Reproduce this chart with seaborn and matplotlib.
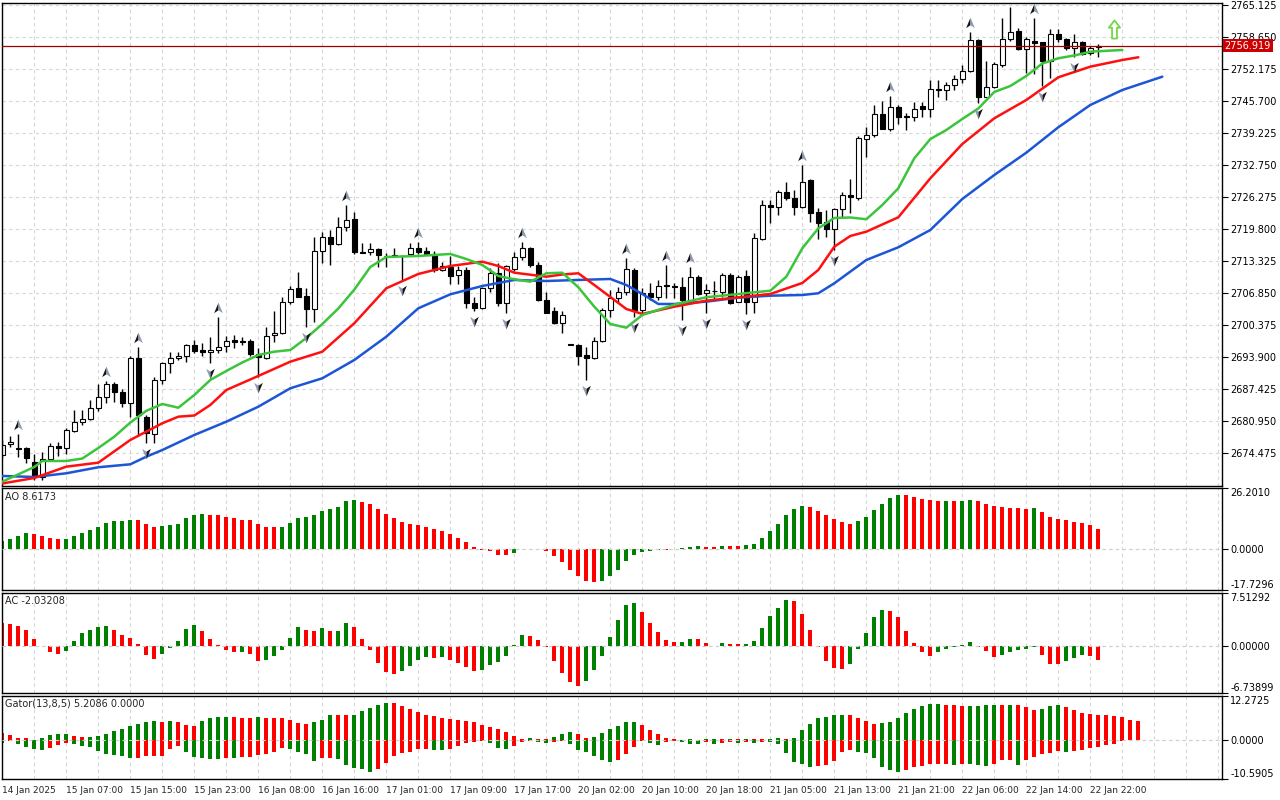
import matplotlib
matplotlib.use("Agg")
import matplotlib.pyplot as plt
import seaborn as sns
import numpy as np
from matplotlib.path import Path
from matplotlib.transforms import offset_copy

# ---------------- hourly candles, 14 Jan 23:00 .. 22 Jan 23:00 ----------------
opens = [2674.09, 2676.25, 2675.55, 2675.57, 2672.61, 2669.70, 2673.22, 2675.91, 2675.44, 2679.01,
         2680.71, 2681.32, 2683.66, 2685.77, 2688.46, 2686.78, 2684.67, 2693.66, 2681.72, 2678.28,
         2689.27, 2692.64, 2693.66, 2694.12, 2696.29, 2695.27, 2694.87, 2695.27, 2696.14, 2697.36,
         2697.09, 2697.16, 2694.52, 2693.66, 2698.31, 2698.71, 2705.11, 2707.88, 2706.26, 2703.57,
         2715.36, 2718.25, 2716.72, 2720.16, 2721.78, 2715.16, 2715.22, 2715.71, 2714.41, 2714.35,
         2714.35, 2714.76, 2715.91, 2715.36, 2714.76, 2711.52, 2712.07, 2710.51, 2711.52, 2704.90,
         2703.77, 2707.82, 2710.97, 2704.78, 2711.66, 2714.21, 2715.91, 2712.53, 2705.45, 2703.23,
         2700.74, 2696.45, 2696.35, 2694.32, 2693.66, 2697.22, 2703.43, 2705.79, 2707.01, 2711.52,
         2703.43, 2706.81, 2706.00, 2708.38, 2708.18, 2708.14, 2704.78, 2710.16, 2706.81, 2707.21,
         2707.13, 2710.51, 2705.11, 2710.30, 2705.11, 2717.79, 2724.67, 2724.33, 2727.24, 2726.02,
         2724.20, 2729.73, 2723.31, 2721.29, 2719.75, 2723.80, 2726.69, 2726.02, 2737.96, 2738.83,
         2743.08, 2740.04, 2744.43, 2742.57, 2742.41, 2744.70, 2744.03, 2748.14, 2747.93, 2748.94,
         2750.16, 2751.84, 2758.05, 2746.58, 2748.48, 2752.99, 2758.19, 2759.87, 2756.17, 2757.91,
         2757.58, 2753.86, 2759.26, 2758.19, 2756.37, 2757.70, 2755.36, 2756.58]
highs = [2677.13, 2677.93, 2678.34, 2675.77, 2674.29, 2674.76, 2676.46, 2676.78, 2679.49, 2683.20,
         2683.20, 2685.22, 2688.46, 2689.06, 2688.92, 2687.39, 2694.12, 2696.00, 2682.18, 2689.93,
         2692.97, 2694.87, 2694.99, 2696.55, 2697.36, 2696.69, 2698.03, 2702.07, 2698.17, 2698.37,
         2697.90, 2697.50, 2695.68, 2700.05, 2703.23, 2706.00, 2708.28, 2711.11, 2707.82, 2718.13,
         2719.27, 2719.61, 2722.18, 2724.67, 2723.19, 2716.92, 2716.92, 2715.91, 2714.90, 2715.91,
         2714.55, 2716.92, 2717.25, 2716.23, 2715.36, 2713.20, 2714.35, 2712.33, 2712.19, 2706.00,
         2708.14, 2711.86, 2712.87, 2712.53, 2715.22, 2717.25, 2716.23, 2713.20, 2707.13, 2704.09,
         2703.23, 2696.55, 2696.49, 2696.00, 2697.90, 2703.77, 2707.47, 2708.14, 2713.89, 2711.98,
         2707.82, 2708.83, 2709.50, 2712.53, 2708.83, 2710.16, 2712.19, 2710.51, 2708.69, 2709.36,
         2710.85, 2710.85, 2710.51, 2711.52, 2719.06, 2725.68, 2725.68, 2727.70, 2729.38, 2727.70,
         2732.76, 2729.87, 2724.00, 2723.66, 2724.00, 2727.36, 2729.87, 2738.63, 2740.51, 2744.90,
         2745.71, 2746.72, 2744.90, 2743.22, 2745.57, 2745.57, 2749.96, 2749.96, 2749.61, 2750.97,
         2752.99, 2759.73, 2758.19, 2753.86, 2753.66, 2762.44, 2764.78, 2760.41, 2758.72, 2762.44,
         2757.70, 2760.21, 2760.21, 2758.39, 2759.20, 2757.91, 2756.83, 2757.18]
lows = [2673.49, 2675.77, 2673.75, 2672.53, 2669.04, 2669.04, 2673.08, 2673.89, 2674.29, 2678.81,
        2680.16, 2681.17, 2682.99, 2684.67, 2684.75, 2683.87, 2681.84, 2677.93, 2676.46, 2676.46,
        2688.46, 2690.74, 2693.31, 2692.97, 2694.79, 2694.12, 2692.77, 2694.67, 2694.99, 2695.68,
        2696.35, 2694.12, 2689.81, 2693.45, 2697.01, 2698.57, 2704.64, 2706.00, 2700.05, 2701.06,
        2712.87, 2712.53, 2716.52, 2719.47, 2714.76, 2714.90, 2714.55, 2712.19, 2712.19, 2714.09,
        2709.50, 2714.55, 2714.76, 2714.55, 2711.18, 2711.38, 2708.69, 2708.69, 2703.77, 2703.29,
        2703.57, 2707.13, 2704.24, 2702.76, 2711.38, 2713.54, 2712.07, 2705.31, 2702.76, 2700.59,
        2698.83, 2696.25, 2692.30, 2689.27, 2693.51, 2697.01, 2701.95, 2705.11, 2706.46, 2702.07,
        2702.41, 2705.45, 2705.45, 2705.79, 2705.79, 2701.40, 2704.64, 2706.46, 2702.76, 2705.45,
        2706.00, 2704.64, 2704.98, 2702.62, 2702.76, 2717.59, 2720.97, 2722.65, 2725.68, 2722.65,
        2723.99, 2721.29, 2717.73, 2718.26, 2715.56, 2721.98, 2722.99, 2725.68, 2734.44, 2738.49,
        2739.98, 2739.70, 2741.05, 2739.84, 2741.72, 2742.41, 2742.53, 2746.58, 2745.91, 2747.93,
        2749.29, 2751.64, 2745.36, 2746.46, 2748.28, 2752.65, 2757.91, 2756.03, 2751.43, 2751.17,
        2748.74, 2750.30, 2757.70, 2756.03, 2754.67, 2755.01, 2755.01, 2754.67]
closes = [2676.11, 2676.78, 2675.34, 2673.42, 2669.70, 2673.22, 2675.91, 2675.50, 2679.15, 2680.71,
          2681.38, 2683.66, 2685.77, 2688.46, 2686.78, 2684.55, 2693.66, 2682.18, 2678.48, 2689.27,
          2692.64, 2693.78, 2694.18, 2696.29, 2695.19, 2694.87, 2695.33, 2695.88, 2697.22, 2696.89,
          2696.89, 2694.47, 2693.86, 2698.17, 2698.71, 2705.11, 2707.61, 2706.12, 2703.57, 2715.36,
          2718.25, 2716.72, 2720.16, 2721.57, 2715.10, 2715.04, 2715.71, 2714.55, 2714.29, 2714.31,
          2714.29, 2715.91, 2715.22, 2714.69, 2711.52, 2712.33, 2710.37, 2711.52, 2704.78, 2703.77,
          2707.82, 2710.85, 2704.78, 2712.33, 2714.21, 2715.91, 2712.53, 2705.45, 2702.88, 2700.74,
          2702.41, 2696.35, 2694.18, 2693.66, 2697.22, 2703.43, 2705.79, 2707.01, 2711.66, 2703.43,
          2706.81, 2706.00, 2708.34, 2708.28, 2708.08, 2705.45, 2710.16, 2706.66, 2707.47, 2707.33,
          2710.51, 2704.78, 2710.16, 2705.11, 2717.93, 2724.67, 2724.20, 2727.24, 2726.02, 2724.20,
          2729.38, 2723.11, 2721.09, 2719.75, 2723.80, 2726.69, 2726.22, 2738.16, 2738.83, 2743.02,
          2740.04, 2744.43, 2742.53, 2742.47, 2744.03, 2744.03, 2748.07, 2748.01, 2748.94, 2750.16,
          2751.84, 2758.05, 2746.58, 2748.48, 2753.13, 2758.19, 2759.73, 2756.23, 2758.19, 2757.50,
          2753.86, 2759.26, 2758.19, 2756.37, 2757.70, 2755.22, 2756.49, 2756.92]

up_fractals = [2, 13, 17, 27, 43, 52, 65, 78, 83, 86, 100, 111, 121, 126, 129]
down_fractals = [5, 18, 26, 32, 38, 50, 59, 63, 73, 79, 85, 88, 93, 104, 122, 130, 134]

# Alligator lines as drawn (already shifted forward)
jaw_bars = [0, 4, 8, 12, 16, 18, 20, 24, 28, 32, 36, 40, 44, 48, 52, 56, 60, 64, 68, 72, 76, 78, 80,
            82, 84, 88, 92, 96, 100, 102, 104, 108, 112, 116, 120, 124, 128, 132, 136, 140, 145]
jaw = [2669.85, 2669.64, 2670.39, 2671.61, 2672.21, 2673.75, 2675.10, 2678.14, 2680.83, 2683.86,
       2687.59, 2689.61, 2693.31, 2698.03, 2703.77, 2706.60, 2708.28, 2709.50, 2709.29, 2709.50,
       2709.70, 2708.48, 2706.66, 2704.64, 2704.64, 2705.11, 2705.92, 2706.32, 2706.46, 2706.81,
       2708.83, 2713.54, 2716.11, 2719.61, 2725.88, 2730.74, 2735.25, 2740.39, 2744.90, 2747.93,
       2750.62]
teeth_bars = [0, 4, 8, 12, 16, 20, 22, 24, 26, 28, 32, 36, 40, 44, 48, 52, 56, 60, 62, 64, 68, 70,
              72, 74, 76, 78, 80, 84, 88, 92, 96, 100, 102, 104, 106, 108, 112, 116, 120, 124, 128,
              132, 136, 140, 142]
teeth = [2668.33, 2669.44, 2671.73, 2672.54, 2677.13, 2680.51, 2681.84, 2682.08, 2684.21, 2687.24,
         2690.08, 2692.97, 2694.99, 2700.74, 2707.82, 2710.71, 2712.33, 2713.20, 2712.33, 2710.97,
         2710.16, 2710.61, 2710.85, 2708.48, 2706.06, 2703.63, 2702.62, 2704.09, 2705.31, 2705.99,
         2706.66, 2708.89, 2711.52, 2716.23, 2718.40, 2719.27, 2722.18, 2730.07, 2737.01, 2742.21,
         2745.91, 2750.50, 2752.65, 2754.00, 2754.55]
lips_bars = [0, 4, 5, 8, 10, 12, 14, 16, 18, 20, 22, 24, 26, 28, 30, 32, 34, 36, 38, 40, 42, 44, 46,
             48, 52, 56, 58, 60, 62, 64, 66, 68, 70, 72, 74, 76, 78, 80, 84, 88, 92, 96, 98, 100,
             102, 104, 106, 108, 110, 112, 114, 116, 118, 120, 122, 124, 126, 128, 130, 132, 134,
             136, 140]
lips = [2668.69, 2671.67, 2672.88, 2672.88, 2673.38, 2675.51, 2677.80, 2680.65, 2683.03, 2684.41,
        2683.66, 2686.23, 2689.27, 2691.09, 2692.81, 2694.32, 2694.99, 2695.33, 2697.76, 2700.59,
        2703.73, 2707.55, 2712.13, 2714.15, 2714.35, 2714.76, 2713.74, 2712.53, 2710.30, 2709.64,
        2709.15, 2710.85, 2710.97, 2708.02, 2704.09, 2700.59, 2699.85, 2702.41, 2704.50, 2706.00,
        2706.66, 2707.33, 2710.16, 2715.91, 2719.95, 2722.04, 2722.14, 2721.78, 2724.67, 2728.05,
        2734.12, 2738.00, 2739.84, 2742.07, 2744.19, 2747.53, 2748.74, 2750.77, 2753.29, 2754.35,
        2754.91, 2755.68, 2756.03]

ao = [3.40, 4.14, 5.62, 6.66, 6.21, 5.62, 4.73, 4.29, 4.44, 5.62,
      6.95, 8.28, 9.61, 10.94, 11.83, 11.98, 12.42, 12.28, 10.65, 9.61,
      9.76, 10.21, 10.65, 13.16, 14.49, 14.94, 14.64, 14.49, 13.61, 13.16,
      12.57, 12.28, 10.65, 9.61, 9.47, 9.61, 10.94, 13.16, 13.61, 14.49,
      16.27, 17.16, 18.04, 20.71, 21.15, 20.26, 19.37, 17.16, 14.94, 13.16,
      11.54, 10.65, 10.21, 9.32, 8.43, 7.54, 6.21, 4.88, 3.11, 0.89,
      -0.59, -1.04, -2.51, -2.60, -1.63, -0.25, -0.15, -0.20, -0.74, -3.11,
      -5.62, -9.17, -11.83, -14.05, -14.49, -14.05, -11.83, -9.17, -5.18, -2.51,
      -1.18, -0.74, -0.30, -0.35, -0.15, 0.44, 0.89, 1.33, 0.89, 0.85,
      1.33, 1.30, 1.28, 1.77, 2.22, 4.88, 7.54, 10.65, 14.64, 17.30,
      18.30, 18.20, 16.42, 14.64, 12.87, 11.54, 10.65, 11.98, 13.75, 16.86,
      19.52, 21.74, 23.07, 23.00, 22.19, 21.30, 20.85, 20.40, 20.45, 20.42,
      20.80, 20.85, 20.40, 19.52, 18.64, 18.19, 17.75, 17.70, 17.30, 17.60,
      15.97, 13.75, 12.87, 12.42, 11.54, 11.09, 10.21, 8.6173]

ac = [3.19, 3.09, 2.79, 2.21, 0.88, -0.05, -0.98, -1.13, -0.74, 0.59,
      1.76, 2.21, 2.65, 2.79, 2.21, 1.47, 1.03, 0.29, -1.27, -1.91,
      -1.13, -0.39, 0.59, 2.35, 2.94, 2.06, 0.88, 0.15, -0.59, -0.88,
      -0.85, -1.13, -2.21, -2.06, -1.47, -0.59, 1.03, 2.65, 2.21, 2.06,
      2.50, 2.06, 2.11, 3.23, 2.65, 0.88, -0.59, -2.45, -3.82, -3.97,
      -3.62, -2.89, -2.01, -1.57, -1.72, -1.57, -2.01, -2.45, -3.04, -3.58,
      -3.48, -2.74, -2.30, -1.42, 0.15, 1.52, 1.37, 0.78, -0.25, -2.16,
      -3.92, -5.24, -5.68, -5.10, -3.48, -1.42, 1.23, 3.58, 5.78, 6.08,
      4.75, 3.14, 1.96, 0.78, 0.49, 0.52, 0.93, 0.90, 0.34, -0.05,
      0.34, 0.20, 0.18, 0.22, 0.64, 2.55, 4.17, 5.34, 6.52, 6.37,
      4.46, 2.25, -0.15, -2.16, -3.19, -3.33, -2.60, -0.54, 1.81, 4.02,
      5.05, 4.90, 4.02, 2.11, 0.34, -0.98, -1.42, -0.98, -0.54, -0.25,
      0.15, 0.49, -0.25, -0.83, -1.57, -1.27, -0.98, -0.69, -0.54, -0.25,
      -1.27, -2.60, -2.62, -2.16, -1.72, -1.27, -1.42, -2.03208]

gator_up = [2.09, 1.36, 0.63, 0.59, 0.09, 0.54, 1.36, 1.63, 1.72, 1.09,
            0.82, 0.91, 1.09, 1.63, 2.45, 3.08, 3.81, 4.35, 4.90, 5.17,
            4.90, 5.17, 4.90, 4.08, 3.81, 5.17, 5.99, 6.26, 6.30, 6.26,
            6.24, 6.22, 6.26, 6.23, 6.21, 5.99, 5.44, 4.63, 4.58, 4.90,
            5.62, 6.89, 6.85, 6.80, 7.07, 8.16, 8.98, 9.80, 10.34, 10.29,
            9.52, 8.44, 7.62, 7.07, 6.53, 5.99, 5.71, 5.44, 5.40, 4.90,
            4.08, 3.54, 2.99, 2.18, 1.09, 0.36, 0.54, 0.45, 0.36, 0.91,
            1.81, 2.18, 1.81, 0.50, 0.90, 2.00, 3.08, 3.99, 4.90, 5.08,
            4.08, 2.72, 1.63, 0.54, 0.30, 0.20, 0.25, 0.15, 0.35, 0.45,
            0.30, 0.40, 0.35, 0.45, 0.40, 0.30, 0.40, 0.50, 0.40, 0.73,
            2.72, 4.54, 6.00, 6.50, 6.90, 7.07, 6.90, 6.00, 5.40, 4.40,
            4.80, 5.10, 6.00, 7.35, 8.70, 9.50, 9.98, 10.00, 9.60, 9.58,
            9.34, 9.50, 9.52, 9.55, 9.60, 9.55, 9.75, 9.65, 9.10, 8.30,
            8.60, 9.30, 9.60, 9.10, 8.30, 7.50, 7.26, 7.00, 6.90, 6.70,
            6.30, 5.70, 5.2086]
gator_down = [-0.63, -0.09, -1.09, -1.81, -2.45, -2.63, -2.09, -1.36, -0.82, -1.09,
              -1.54, -1.81, -2.90, -3.72, -4.08, -4.35, -4.81, -4.76, -4.35, -4.31,
              -4.26, -2.45, -1.63, -3.27, -4.54, -4.81, -5.08, -5.17, -4.81, -4.90,
              -4.63, -4.58, -3.99, -3.81, -3.27, -2.18, -2.27, -3.27, -3.81, -5.62,
              -4.81, -4.72, -5.17, -6.71, -7.53, -7.98, -8.62, -7.80, -6.26, -4.35,
              -3.54, -3.27, -2.45, -2.40, -2.63, -2.72, -2.45, -1.54, -0.82, -0.54,
              -0.18, -0.82, -2.18, -2.45, -1.63, -0.54, -0.27, -0.45, -0.82, -0.45,
              -0.18, -1.09, -2.54, -3.08, -4.26, -5.35, -5.80, -5.35, -3.63, -1.90,
              -0.30, -0.73, -1.27, -0.54, -0.27, -0.54, -0.90, -1.10, -0.54, -0.90,
              -0.63, -0.45, -0.63, -0.54, -0.63, -0.54, -0.59, -0.90, -3.54, -5.90,
              -6.53, -7.17, -7.07, -6.70, -5.70, -3.20, -2.60, -3.20, -3.50, -4.80,
              -7.40, -8.20, -8.60, -8.20, -7.40, -7.00, -6.40, -6.38, -6.35, -6.70,
              -6.35, -6.50, -6.80, -7.07, -6.35, -5.44, -5.35, -6.70, -5.26, -4.44,
              -3.63, -3.45, -2.90, -3.27, -2.90, -2.54, -2.00, -1.81, -1.36, -0.91,
              -0.18]

time_labels = ["14 Jan 2025", "15 Jan 07:00", "15 Jan 15:00", "15 Jan 23:00", "16 Jan 08:00",
               "16 Jan 16:00", "17 Jan 01:00", "17 Jan 09:00", "17 Jan 17:00", "20 Jan 02:00",
               "20 Jan 10:00", "20 Jan 18:00", "21 Jan 05:00", "21 Jan 13:00", "21 Jan 21:00",
               "22 Jan 06:00", "22 Jan 14:00", "22 Jan 22:00"]
price_ticks = [2674.475, 2680.950, 2687.425, 2693.900, 2700.375, 2706.850, 2713.325, 2719.800,
               2726.275, 2732.750, 2739.225, 2745.700, 2752.175, 2758.650, 2765.125]
ao_ticks = [-17.7296, 0.0, 26.2010]
ao_tick_labels = ["-17.7296", "0.0000", "26.2010"]
ac_ticks = [-6.73899, 0.0, 7.51292]
ac_tick_labels = ["-6.73899", "0.00000", "7.51292"]
gator_ticks = [-10.5905, 0.0, 12.2725]
gator_tick_labels = ["-10.5905", "0.0000", "12.2725"]
last_price = 2756.919
signal_bar = 139
signal_price = 2760.3

sns.set_style("white")
plt.rcParams["font.family"] = ["DejaVu Sans"]

GREEN = "#008000"
RED = "#ff0000"
GRID = "#d6d6d6"
DASH = (0, (3, 3))

fig = plt.figure(figsize=(12.8, 8), dpi=100)


def panel(top, bottom):
    return fig.add_axes([2 / 1280, 1 - bottom / 800, 1220 / 1280, (bottom - top) / 800])


ax = panel(2.5, 485.5)
ax_ao = panel(488, 590)
ax_ac = panel(592.7, 693)
ax_gt = panel(695.5, 779)

for a in (ax, ax_ao, ax_ac, ax_gt):
    a.set_xticks(np.arange(0, 153, 8))
    a.set_xticks(np.arange(4, 153, 8), minor=True)
    a.grid(True, which="both", axis="x", color=GRID, linestyle=DASH, linewidth=0.8)
    a.grid(True, which="major", axis="y", color=GRID, linestyle=DASH, linewidth=0.8)
    a.set_axisbelow(True)
    a.yaxis.tick_right()
    a.tick_params(axis="y", which="both", direction="out", length=4, width=0.8, pad=2,
                  labelsize=7, colors="black")
    a.tick_params(axis="x", which="both", length=0, labelbottom=False)
    for s in a.spines.values():
        s.set_color("black")
        s.set_linewidth(1.0)

# ---------------- candles ----------------
xs = np.arange(len(opens))
o = np.array(opens)
c = np.array(closes)
bull = c >= o
ax.vlines(xs, lows, highs, color="black", linewidth=1.0, zorder=2)
ax.bar(xs, np.maximum(np.abs(c - o), 0.15), bottom=np.minimum(o, c), width=0.6,
       color=np.where(bull, "white", "black"), edgecolor="black", linewidth=0.8, zorder=2.5)

# ---------------- alligator ----------------
sns.lineplot(x=jaw_bars, y=jaw, ax=ax, color="#1c56d6", linewidth=1.8, zorder=3)
sns.lineplot(x=teeth_bars, y=teeth, ax=ax, color="#ff1010", linewidth=1.8, zorder=3.1)
sns.lineplot(x=lips_bars, y=lips, ax=ax, color="#3cc43c", linewidth=1.8, zorder=3.2)

# ---------------- fractals ----------------
codes = [Path.MOVETO, Path.LINETO, Path.LINETO, Path.CLOSEPOLY]
up_l = Path([(0, 1), (-0.75, -0.8), (0, -0.3), (0, 1)], codes)
up_r = Path([(0, 1), (0, -0.3), (0.75, -0.8), (0, 1)], codes)
dn_l = Path([(0, -1), (-0.75, 0.8), (0, 0.3), (0, -1)], codes)
dn_r = Path([(0, -1), (0, 0.3), (0.75, 0.8), (0, -1)], codes)
tr_up = offset_copy(ax.transData, fig=fig, x=0, y=9, units="dots")
tr_dn = offset_copy(ax.transData, fig=fig, x=0, y=-10, units="dots")
ux = up_fractals
uy = [highs[i] for i in up_fractals]
dx = down_fractals
dy = [lows[i] for i in down_fractals]
ax.scatter(ux, uy, marker=up_l, s=70, color="#141414", linewidths=0, transform=tr_up, zorder=4)
ax.scatter(ux, uy, marker=up_r, s=70, color="#8d9bb2", linewidths=0, transform=tr_up, zorder=4)
ax.scatter(dx, dy, marker=dn_l, s=70, color="#8d9bb2", linewidths=0, transform=tr_dn, zorder=4)
ax.scatter(dx, dy, marker=dn_r, s=70, color="#141414", linewidths=0, transform=tr_dn, zorder=4)

# signal arrow
arrow = Path([(0, 1), (0.62, 0.2), (0.27, 0.2), (0.27, -1), (-0.27, -1), (-0.27, 0.2),
              (-0.62, 0.2), (0, 1)],
             [Path.MOVETO] + [Path.LINETO] * 6 + [Path.CLOSEPOLY])
ax.scatter([signal_bar], [signal_price], marker=arrow, s=170, facecolors="white",
           edgecolors="#74d64a", linewidths=1.3, zorder=4)

# current price
ax.axhline(last_price, color="#a00000", linewidth=0.9, zorder=3.5)
ax.text(1.0022, last_price, f"{last_price:.3f}", transform=ax.get_yaxis_transform(),
        ha="left", va="center", fontsize=7, color="white", zorder=6,
        bbox=dict(boxstyle="square,pad=0.18", fc="#cc0000", ec="none"))

ax.set_yticks(price_ticks)
ax.set_yticklabels([f"{v:.3f}" for v in price_ticks])
ax.set_ylim(2667.92, 2765.63)

# ---------------- AO ----------------
ao_col = [GREEN] + [GREEN if ao[i] > ao[i - 1] else RED for i in range(1, len(ao))]
ax_ao.bar(np.arange(len(ao)), ao, width=0.5, color=ao_col, linewidth=0)
ax_ao.set_ylim(ao_ticks[0], ao_ticks[-1])
ax_ao.set_yticks(ao_ticks)
ax_ao.set_yticklabels(ao_tick_labels)
ax_ao.text(0.0025, 0.965, f"AO {ao[-1]:.4f}", transform=ax_ao.transAxes, ha="left", va="top",
           fontsize=7)

# ---------------- AC ----------------
ac_col = [RED] + [GREEN if ac[i] > ac[i - 1] else RED for i in range(1, len(ac))]
ax_ac.bar(np.arange(len(ac)), ac, width=0.5, color=ac_col, linewidth=0)
ax_ac.set_ylim(ac_ticks[0], ac_ticks[-1])
ax_ac.set_yticks(ac_ticks)
ax_ac.set_yticklabels(ac_tick_labels)
ax_ac.text(0.0025, 0.965, f"AC {ac[-1]:.5f}", transform=ax_ac.transAxes, ha="left", va="top",
           fontsize=7)

# ---------------- Gator ----------------
gu_col = [RED] + [GREEN if gator_up[i] > gator_up[i - 1] else RED
                  for i in range(1, len(gator_up))]
gd_col = [GREEN] + [GREEN if abs(gator_down[i]) > abs(gator_down[i - 1]) else RED
                    for i in range(1, len(gator_down))]
ax_gt.bar(np.arange(len(gator_up)), gator_up, width=0.5, color=gu_col, linewidth=0)
ax_gt.bar(np.arange(len(gator_down)), gator_down, width=0.5, color=gd_col, linewidth=0)
ax_gt.set_ylim(gator_ticks[0], gator_ticks[-1])
ax_gt.set_yticks(gator_ticks)
ax_gt.set_yticklabels(gator_tick_labels)
ax_gt.text(0.0025, 0.96, f"Gator(13,8,5) {gator_up[-1]:.4f} 0.0000", transform=ax_gt.transAxes,
           ha="left", va="top", fontsize=7)

for a in (ax_ao, ax_ac, ax_gt):
    labs = a.get_yticklabels()
    labs[0].set_va("bottom")
    labs[-1].set_va("top")
    a.axhline(0, color="#d0d0d0", linewidth=0.8, linestyle=DASH, zorder=3)

for a in (ax, ax_ao, ax_ac, ax_gt):
    a.set_xlim(-0.04, 152.46)

ax_gt.set_xticklabels(time_labels + [""] * (len(ax_gt.get_xticks()) - len(time_labels)),
                      ha="left", fontsize=6.5)
ax_gt.tick_params(axis="x", which="major", length=3, width=0.8, pad=2, labelbottom=True)

fig.savefig("out.png", dpi=100)
